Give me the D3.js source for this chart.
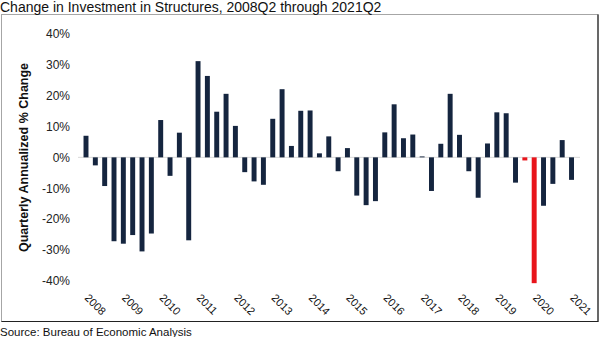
<!DOCTYPE html>
<html>
<head>
<meta charset="utf-8">
<script src="https://cdn.jsdelivr.net/npm/d3@7"></script>
<style>
  html, body { margin: 0; padding: 0; background: #fff; }
  svg { display: block; font-family: "Liberation Sans", Arial, sans-serif; }
</style>
</head>
<body>
<svg id="chart" width="600" height="337"></svg>
<script>
// Quarterly annualized % change in real investment in structures, 2008Q2–2021Q2
const years = [2008, 2009, 2010, 2011, 2012, 2013, 2014, 2015, 2016, 2017, 2018, 2019, 2020, 2021];
const values = [
  7.0, -2.6, -9.3, -27.2, -28.0, -25.2, -30.5, -24.7, 12.1, -6.0,
  8.0, -26.9, 31.2, 26.4, 14.8, 20.6, 10.2, -4.8, -7.8, -8.9,
  12.5, 22.1, 3.7, 15.1, 15.2, 1.3, 6.8, -4.5, 3.0, -12.4,
  -15.5, -14.2, 8.1, 17.2, 6.2, 7.4, 0.3, -10.9, 4.4, 20.6,
  7.3, -4.5, -13.1, 4.5, 14.6, 14.3, -8.2, -1.0, -40.8, -15.7,
  -8.6, 5.6, -7.3
];
const highlighted = ["2020Q1", "2020Q2"];
const yTicks = [-40, -30, -20, -10, 0, 10, 20, 30, 40];

// quarter labels 2008Q2 ... 2021Q2
const quarters = [];
years.forEach(y => [1, 2, 3, 4].forEach(q => quarters.push(y + "Q" + q)));
const categories = quarters.slice(1, 1 + values.length);
const data = categories.map((c, i) => ({ q: c, v: values[i] }));

const svg = d3.select("#chart");

// outer frame
svg.append("rect")
  .attr("x", 1.5).attr("y", 14.5).attr("width", 596.5).attr("height", 307)
  .attr("fill", "none").attr("stroke", "#a6a6a6").attr("stroke-width", 1);
svg.append("path")
  .attr("d", "M598,14.5V321.5H1.5")
  .attr("fill", "none").attr("stroke", "#222").attr("stroke-width", 1.2);

// title and source
svg.append("text").attr("x", 0).attr("y", 11.5)
  .attr("font-size", 14).attr("fill", "#111")
  .text("Change in Investment in Structures, 2008Q2 through 2021Q2");
svg.append("text").attr("x", 0).attr("y", 336)
  .attr("font-size", 11.5).attr("fill", "#111")
  .text("Source: Bureau of Economic Analysis");

const x = d3.scaleBand().domain(categories)
  .range([81.33, 576.2]).paddingInner(0.47).paddingOuter(0.235);
const y = d3.scaleLinear().domain([-40, 40]).range([280.7, 34]);

// y axis labels
const yAxis = d3.axisLeft(y).tickValues(yTicks)
  .tickFormat(d => d + "%").tickSize(0).tickPadding(0);
const gy = svg.append("g").attr("transform", "translate(70,0)").call(yAxis);
gy.select(".domain").remove();
gy.selectAll("text").attr("font-size", 12).attr("fill", "#222")
  .attr("font-family", "Liberation Sans, Arial, sans-serif");

// y axis title
svg.append("text")
  .attr("transform", "translate(27.5,157.5) rotate(-90)")
  .attr("text-anchor", "middle").attr("font-size", 12.5)
  .attr("font-weight", "bold").attr("fill", "#111")
  .text("Quarterly Annualized % Change");

// zero line
svg.append("line")
  .attr("x1", 78).attr("x2", 580)
  .attr("y1", y(0)).attr("y2", y(0))
  .attr("stroke", "#d9d9d9").attr("stroke-width", 1);

// bars
svg.append("g").selectAll("rect").data(data).join("rect")
  .attr("x", d => x(d.q))
  .attr("width", x.bandwidth())
  .attr("y", d => y(Math.max(0, d.v)))
  .attr("height", d => Math.abs(y(d.v) - y(0)))
  .attr("fill", d => highlighted.includes(d.q) ? "#e8141b" : "#15253f");

// year labels under each year's Q2 bar, slanted 45° downward
svg.append("g").selectAll("text").data(years).join("text")
  .attr("transform", yr => {
    const cx = x(yr + "Q2") + x.bandwidth() / 2 - 2;
    return "translate(" + cx + ",298.6) rotate(45)";
  })
  .attr("text-anchor", "start")
  .attr("font-size", 11).attr("fill", "#111")
  .text(yr => String(yr));
</script>
</body>
</html>
